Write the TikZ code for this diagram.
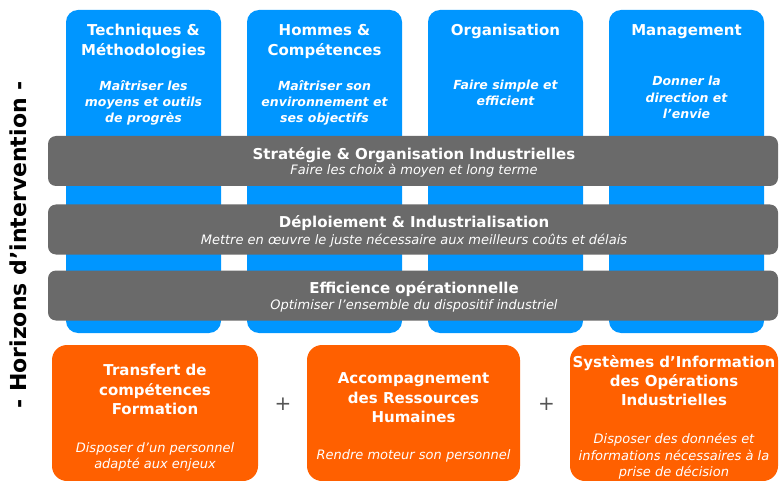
\documentclass[tikz,border=0pt]{standalone}
\usepackage{fontspec}
\setmainfont{DejaVu Sans}
\definecolor{axeblue}{RGB}{0,150,255}
\definecolor{bargray}{RGB}{106,106,106}
\definecolor{leverorange}{RGB}{255,96,0}
\definecolor{plusgray}{RGB}{85,85,85}

\begin{document}
\begin{tikzpicture}[x=1pt,y=-1pt,
        axebox/.style={fill=axeblue,rounded corners=12pt,minimum width=155pt,minimum height=323pt,inner sep=0pt},
        barbox/.style={fill=bargray,rounded corners=8pt,minimum width=730pt,minimum height=50pt,inner sep=0pt},
        leverbox/.style={fill=leverorange,rounded corners=15pt,minimum height=136pt,inner sep=0pt},
        boxtitle/.style={text=white,align=center,inner sep=0pt,font=\bfseries\fontsize{15}{19.4}\selectfont},
        axesub/.style={text=white,align=center,inner sep=0pt,font=\bfseries\itshape\fontsize{12.5}{16.2}\selectfont},
        bartitle/.style={text=white,anchor=base,inner sep=0pt,font=\bfseries\fontsize{15}{18}\selectfont},
        barsub/.style={text=white,anchor=base,inner sep=0pt,font=\itshape\fontsize{13}{16}\selectfont},
        leversub/.style={text=white,align=center,inner sep=0pt,font=\itshape\fontsize{13}{16.5}\selectfont}]
    \useasboundingbox (0,0) rectangle (779,481);
    \foreach \i/\cx in {1/143.5,2/324.5,3/505.5,4/686.5}{
        \node[axebox] (axe\i) at (\cx,171.5) {};
    }
    \node[boxtitle] (axe1title) at (143.5,41.4) {Techniques \&\\Méthodologies};
    \node[boxtitle] (axe2title) at (324.5,41.4) {Hommes \&\\Compétences};
    \node[boxtitle,anchor=base] (axe3title) at (505.5,35.7) {Organisation};
    \node[boxtitle,anchor=base] (axe4title) at (686.5,35.7) {Management};
    \node[axesub] (axe1sub) at (143.5,102.9) {Maîtriser les\\moyens et outils\\de progrès};
    \node[axesub] (axe2sub) at (324.5,102.9) {Maîtriser son\\environnement et\\ses objectifs};
    \node[axesub] (axe3sub) at (505.5,92.9) {Faire simple et\\efficient};
    \node[axesub] (axe4sub) at (686.5,97.4) {Donner la\\direction et\\l’envie};

    \node[barbox] (horizon1) at (413,161) {};
    \node[barbox] (horizon2) at (413,229.5) {};
    \node[barbox] (horizon3) at (413,295.5) {};
    \node[bartitle] (horizon1title) at (414,159.3) {Stratégie \& Organisation Industrielles};
    \node[barsub] (horizon1sub) at (414,174.3) {Faire les choix à moyen et long terme};
    \node[bartitle] (horizon2title) at (414,227.3) {Déploiement \& Industrialisation};
    \node[barsub] (horizon2sub) at (414,244) {Mettre en œuvre le juste nécessaire aux meilleurs coûts et délais};
    \node[bartitle] (horizon3title) at (414,293.3) {Efficience opérationnelle};
    \node[barsub] (horizon3sub) at (414,309.3) {Optimiser l’ensemble du dispositif industriel};

    \node[leverbox,minimum width=206pt] (lever1) at (155,413) {};
    \node[leverbox,minimum width=213pt] (lever2) at (413.5,413) {};
    \node[leverbox,minimum width=208pt] (lever3) at (674,413) {};
    \node[boxtitle] (lever1title) at (155,389.7) {Transfert de\\compétences\\Formation};
    \node[boxtitle] (lever2title) at (413.5,397.7) {Accompagnement\\des Ressources\\Humaines};
    \node[boxtitle] (lever3title) at (674,380.7) {Systèmes d’Information\\des Opérations\\Industrielles};
    \node[leversub] (lever1sub) at (155,456.8) {Disposer d’un personnel\\adapté aux enjeux};
    \node[leversub,anchor=base] (lever2sub) at (413.5,459.3) {Rendre moteur son personnel};
    \node[leversub] (lever3sub) at (674,456.3) {Disposer des données et\\informations nécessaires à la\\prise de décision};
    \node[text=plusgray,font=\fontsize{20}{20}\selectfont,inner sep=0pt] (plus1) at (283,404) {+};
    \node[text=plusgray,font=\fontsize{20}{20}\selectfont,inner sep=0pt] (plus2) at (546.5,404) {+};

    \node[rotate=90,inner sep=0pt,font=\bfseries\fontsize{22}{22}\selectfont] (horizonslabel) at (18.5,245) {- Horizons d’intervention -};
\end{tikzpicture}
\end{document}
